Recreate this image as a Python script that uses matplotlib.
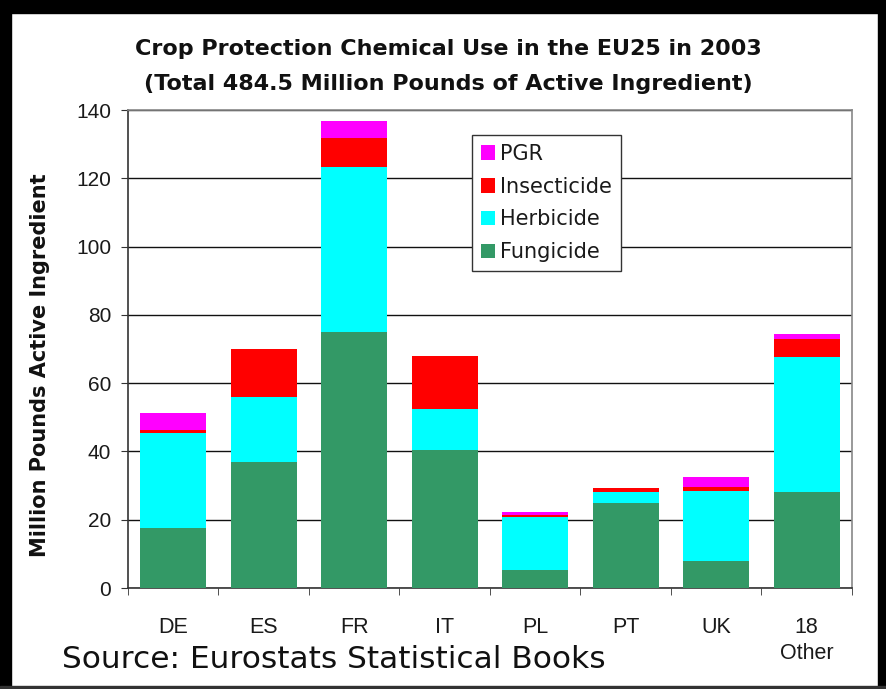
import matplotlib
matplotlib.use("Agg")
import matplotlib.pyplot as plt
from matplotlib.patches import Rectangle
import numpy as np

categories = ["DE", "ES", "FR", "IT", "PL", "PT", "UK", "18\nOther"]
fungicide = [17.6, 36.8, 75.0, 40.5, 5.3, 24.9, 7.9, 28.0]
herbicide = [27.8, 19.2, 48.2, 12.0, 15.5, 3.3, 20.5, 39.7]
insecticide = [1.0, 14.0, 8.5, 15.5, 0.7, 1.0, 1.3, 5.3]
pgr = [5.0, 0.0, 5.0, 0.0, 0.8, 0.1, 2.9, 1.5]
series_names = ["Fungicide", "Herbicide", "Insecticide", "PGR"]
series_colors = ["#339966", "#00FFFF", "#FF0000", "#FF00FF"]
yticks = [0, 20, 40, 60, 80, 100, 120, 140]

plt.rcParams["font.family"] = ["Liberation Sans", "DejaVu Sans"]

W, H = 886, 689
fig = plt.figure(figsize=(W / 100, H / 100), dpi=100)
ax = fig.add_axes([128 / W, 1 - 588 / H, 724 / W, 478 / H])

x = np.arange(len(categories))
data = [fungicide, herbicide, insecticide, pgr]
bottom = np.zeros(len(categories))
handles = []
for vals, name, col in zip(data, series_names, series_colors):
    b = ax.bar(x, vals, width=0.73, bottom=bottom, color=col, label=name,
               edgecolor="none", zorder=3)
    handles.append(b)
    bottom += np.array(vals)

ax.set_xlim(-0.5, len(categories) - 0.5)
ax.set_ylim(0, 140)
ax.set_yticks(yticks)
ax.set_yticklabels([str(v) for v in yticks], fontsize=15, color="#1a1a1a")
ax.yaxis.grid(True, color="#111111", linewidth=1.0, zorder=0)
ax.set_axisbelow(True)

ax.set_xticks(x)
ax.set_xticklabels(categories, fontsize=15.5, color="#1a1a1a", linespacing=1.3)
ax.tick_params(axis="x", length=0, pad=21)
ax.set_xticks(np.arange(-0.5, len(categories)), minor=True)
ax.tick_params(axis="x", which="minor", length=5, direction="out", color="#333333")
ax.tick_params(axis="y", length=5, direction="out", color="#333333", pad=7)

for side in ["left", "bottom"]:
    ax.spines[side].set_color("#333333")
    ax.spines[side].set_linewidth(1.2)
for side in ["top", "right"]:
    ax.spines[side].set_color("#888888")
    ax.spines[side].set_linewidth(1.2)

ax.set_ylabel("Million Pounds Active Ingredient", fontsize=15, fontweight="bold",
              family=["DejaVu Sans"], color="#111111")
ax.yaxis.set_label_coords(-0.108, 0.467)

leg_order = [3, 2, 1, 0]
leg = ax.legend([handles[i] for i in leg_order], [series_names[i] for i in leg_order],
                loc="upper left", bbox_to_anchor=(0.475, 0.948),
                prop={"family": "DejaVu Sans", "size": 15},
                frameon=True, fancybox=False, edgecolor="#333333", framealpha=1,
                handlelength=0.7, handleheight=0.7, handletextpad=0.25,
                labelspacing=0.62, borderpad=0.42, borderaxespad=0)
leg.get_frame().set_linewidth(1.0)
for t in leg.get_texts():
    t.set_color("#1a1a1a")

fig.text(448 / W, 1 - 49 / H, "Crop Protection Chemical Use in the EU25 in 2003",
         ha="center", va="center", fontsize=16, fontweight="bold",
         family=["DejaVu Sans"], color="#111111")
fig.text(448 / W, 1 - 84 / H, "(Total 484.5 Million Pounds of Active Ingredient)",
         ha="center", va="center", fontsize=16, fontweight="bold",
         family=["DejaVu Sans"], color="#111111")

fig.text(62 / W, 1 - 660 / H, "Source: Eurostats Statistical Books",
         ha="left", va="center", fontsize=22.5, family=["DejaVu Sans"], color="#111111")

# black frame
fig.add_artist(Rectangle((0, 1 - 13 / H), 1, 13 / H, transform=fig.transFigure,
                         color="black", zorder=10))
fig.add_artist(Rectangle((0, 0), 11 / W, 1, transform=fig.transFigure,
                         color="black", zorder=10))
fig.add_artist(Rectangle((1 - 8 / W, 0), 8 / W, 1, transform=fig.transFigure,
                         color="black", zorder=10))
fig.add_artist(Rectangle((0, 0), 1, 3 / H, transform=fig.transFigure,
                         color="#333333", zorder=10))

fig.savefig("out.png", dpi=100)
